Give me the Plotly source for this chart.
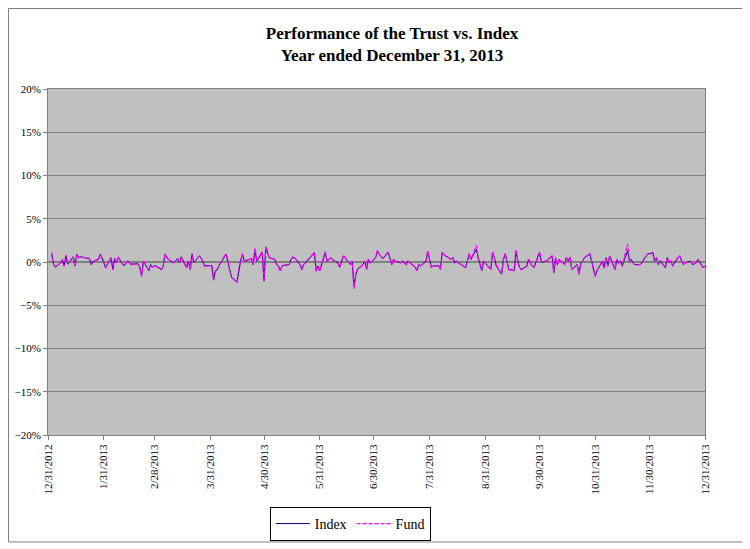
import pandas as pd
import plotly.graph_objects as go

# ========== DATA ==========
# NYSE holidays in 2013 (closed days)
holidays = ["2013-01-01", "2013-01-21", "2013-02-18", "2013-03-29", "2013-05-27",
            "2013-07-04", "2013-09-02", "2013-11-28", "2013-12-25"]

# daily returns in %, one row per month
index_ret = [
    1.0, -0.2, -0.6, -0.1, 0.2, -0.45, 0.7, -0.25, 0.6, -0.45, 0.9, 0.5, 0.6, 0.5, 0.4, -0.3, 0.05, 0.3, 0.9, 0.5, -0.1,  # jan
    -0.65, 0.5, -0.85, 0.4, -0.1, 0.5, -0.4, -0.3, 0.1, 0.0, -0.25, -0.2, -0.65, -1.6, 0.1, -1.0, -0.3, -0.65, -0.45,  # feb
    -0.45, -0.85, -0.5, 0.9, 0.5, 0.3, -0.1, 0.1, 0.4, -0.1, 0.6, -0.65, 0.1, -0.85, 0.9, -0.1, 0.7, 0.5, 0.1, -0.45,  # mar
    -0.4, -2.1, -1.0, -0.9, -0.4, 0.6, 0.9, 0.0, -1.0, -1.8, -2.3, -0.8, 0.1, 0.9, 0.1, 0.3, 0.4, -0.3, 1.4, 0.1, 1.1, -2.2,  # apr
    1.7, 1.0, 0.5, 0.3, -0.3, -0.45, -1.0, -0.45, -0.3, -0.3, 0.3, 0.5, 0.5, -0.3, -0.85, -0.3, -0.1, 0.1, 1.1, -1.0, -0.45, -1.0,  # may
    1.1, 0.1, 0.3, 0.5, 0.3, -0.1, -0.6, -0.1, 0.7, 0.5, -0.3, 0.0, -2.8, -1.4, -0.85, -0.3, 0.1, -0.85, 0.3, -0.1,  # jun
    0.5, 1.3, 0.9, 0.4, 1.1, 0.5, -0.3, 0.3, 0.1, -0.1, 0.1, -0.1, -0.3, 0.1, -0.45, -0.6, -1.0, -0.3, -0.45, 0.1, 1.2, 0.3,  # jul
    -0.65, -0.45, -0.45, -0.85, 1.1, 0.9, 0.7, 0.3, 0.5, -0.1, 0.1, -0.1, -0.45, -0.65, 0.1, 0.9, 0.3, 1.5, 0.5, -0.45, -1.0, 0.1,  # aug
    -0.85, 1.1, 0.5, -0.4, -1.4, 0.3, 0.9, 0.1, -0.85, -1.0, 1.3, 0.1, -0.65, -0.85, -0.5, 0.3, -0.1, -0.45, -0.65, 1.1,  # sep
    0.1, -0.1, 0.1, 0.1, 0.7, -1.2, 0.5, -0.3, 0.3, -0.3, 0.5, 0.1, 0.5, -0.85, -0.3, -1.4, -0.1, 0.1, 0.5, 0.9, 0.1, -0.85, -1.6,  # oct
    -1.0, 0.1, -0.65, 0.5, -0.45, 0.7, -0.85, 0.3, -0.1, 0.1, -0.45, 1.3, 0.1, 0.3, -0.1, -0.3, -0.3, -0.1, 0.3, 0.9,  # nov
    1.1, 0.1, 0.5, -0.3, 0.1, -0.65, 0.5, -0.1, 0.1, -0.45, 0.5, 0.7, 0.1, -0.3, -0.1, 0.1, -0.3, -0.1, 0.3, -0.65, -0.4,  # dec
]

fund_ret = [
    1.1, -0.3, -0.5, -0.1, 0.3, -0.5, 0.8, -0.2, 0.6, -0.5, 0.9, 0.6, 0.5, 0.5, 0.4, -0.3, 0.1, 0.3, 0.9, 0.4, -0.1,  # jan
    -0.7, 0.5, -0.9, 0.4, -0.1, 0.6, -0.4, -0.3, 0.1, 0.1, -0.3, -0.2, -0.6, -1.7, 0.2, -1.0, -0.3, -0.6, -0.5,  # feb
    -0.5, -0.9, -0.4, 1.0, 0.4, 0.3, -0.1, 0.2, 0.4, -0.1, 0.6, -0.7, 0.1, -0.9, 1.0, -0.1, 0.7, 0.5, 0.1, -0.5,  # mar
    -0.4, -2.0, -1.1, -0.8, -0.4, 0.7, 0.9, 0.1, -1.1, -1.7, -2.4, -0.8, 0.1, 1.0, 0.1, 0.3, 0.5, -0.3, 1.6, 0.1, 1.2, -2.3,  # apr
    1.8, 1.0, 0.5, 0.3, -0.3, -0.5, -1.1, -0.4, -0.3, -0.3, 0.3, 0.6, 0.5, -0.3, -0.9, -0.3, -0.1, 0.2, 1.1, -1.1, -0.5, -1.0,  # may
    1.2, 0.1, 0.3, 0.5, 0.3, -0.1, -0.6, -0.1, 0.8, 0.5, -0.3, 0.1, -3.1, -1.5, -0.8, -0.3, 0.1, -0.9, 0.3, -0.1,  # jun
    0.5, 1.3, 0.9, 0.4, 1.2, 0.5, -0.3, 0.3, 0.1, -0.1, 0.1, -0.1, -0.3, 0.1, -0.5, -0.6, -1.0, -0.3, -0.5, 0.1, 1.3, 0.3,  # jul
    -0.7, -0.5, -0.4, -0.9, 1.1, 0.9, 0.7, 0.3, 0.5, -0.1, 0.1, -0.1, -0.5, -0.6, 0.1, 1.0, 0.3, 1.9, 0.4, -0.4, -1.0, 0.1,  # aug
    -0.9, 1.2, 0.5, -0.4, -1.4, 0.3, 1.0, 0.1, -0.9, -1.0, 1.4, 0.1, -0.7, -0.9, -0.5, 0.3, -0.1, -0.5, -0.6, 1.2,  # sep
    0.1, -0.1, 0.1, 0.1, 0.8, -1.3, 0.5, -0.3, 0.3, -0.3, 0.5, 0.1, 0.6, -0.9, -0.3, -1.5, -0.1, 0.1, 0.5, 1.0, 0.1, -0.9, -1.7,  # oct
    -1.0, 0.1, -0.7, 0.5, -0.5, 0.7, -0.9, 0.3, -0.1, 0.1, -0.5, 2.1, 0.1, 0.3, -0.1, -0.3, -0.3, -0.1, 0.3, 0.9,  # nov
    1.0, 0.1, 0.5, -0.3, 0.2, -0.7, 0.5, -0.1, 0.1, -0.5, 0.6, 0.7, 0.1, -0.3, -0.1, 0.1, -0.3, -0.1, 0.3, -0.7, -0.5,  # dec
]

tick_dates = ["2012-12-31", "2013-01-31", "2013-02-28", "2013-03-31", "2013-04-30", "2013-05-31", "2013-06-30",
              "2013-07-31", "2013-08-31", "2013-09-30", "2013-10-31", "2013-11-30", "2013-12-31"]
tick_labels = ["12/31/2012", "1/31/2013", "2/28/2013", "3/31/2013", "4/30/2013", "5/31/2013", "6/30/2013",
               "7/31/2013", "8/31/2013", "9/30/2013", "10/31/2013", "11/30/2013", "12/31/2013"]

# trading days of 2013
dates = pd.bdate_range("2013-01-02", "2013-12-31")
dates = dates[~dates.isin(pd.to_datetime(holidays))]
assert len(dates) == len(index_ret) == len(fund_ret), (len(dates), len(index_ret), len(fund_ret))

# ========== PLOT ==========
serif = "Liberation Serif, Times New Roman, serif"
grid_col = "#808080"

fig = go.Figure()
fig.add_trace(go.Scatter(x=dates, y=index_ret, name="Index", mode="lines",
                         line=dict(color="#000080", width=1)))
fig.add_trace(go.Scatter(x=dates, y=fund_ret, name="Fund", mode="lines",
                         line=dict(color="#ff00ff", width=1.3, dash="4px,2px")))

# the page body adds an 8px margin, so margins are set 8px smaller here
fig.update_layout(
    width=750, height=549,
    margin=dict(l=40, r=53, t=81, b=122, autoexpand=False),
    paper_bgcolor="white", plot_bgcolor="#c0c0c0",
    title=dict(text="<b>Performance of the Trust vs. Index<br>Year ended December 31, 2013</b>",
               x=0.512, xanchor="center", y=0.944, yanchor="top",
               font=dict(family=serif, size=17, color="black")),
    font=dict(family=serif, size=11, color="black"),
    showlegend=True,
    legend=dict(orientation="h", x=0.46, xanchor="center", y=-0.208, yanchor="top",
                bordercolor="black", borderwidth=1, bgcolor="white",
                font=dict(family=serif, size=14), itemwidth=34, tracegroupgap=0),
    hovermode=False,
)

fig.update_xaxes(type="date", range=["2012-12-31", "2013-12-31"], automargin=False,
                 tickvals=tick_dates, ticktext=tick_labels, tickangle=-90,
                 showgrid=False, zeroline=False,
                 showline=True, linecolor=grid_col, mirror=True,
                 ticks="outside", ticklen=4, tickcolor=grid_col,
                 tickfont=dict(family=serif, size=11))
fig.update_yaxes(range=[-20, 20], dtick=5, ticksuffix="%", automargin=False,
                 showgrid=True, gridcolor=grid_col, gridwidth=1,
                 zeroline=True, zerolinecolor=grid_col, zerolinewidth=1.5,
                 showline=True, linecolor=grid_col, mirror=True,
                 ticks="outside", ticklen=4, tickcolor=grid_col,
                 tickfont=dict(family=serif, size=11))

# outer chart border
fig.add_shape(type="rect", xref="paper", yref="paper",
              x0=-0.0601, x1=1.0609, y0=-0.3092, y1=1.2327,
              line=dict(color="#808080", width=1), layer="below")

fig.write_html("out.html")
